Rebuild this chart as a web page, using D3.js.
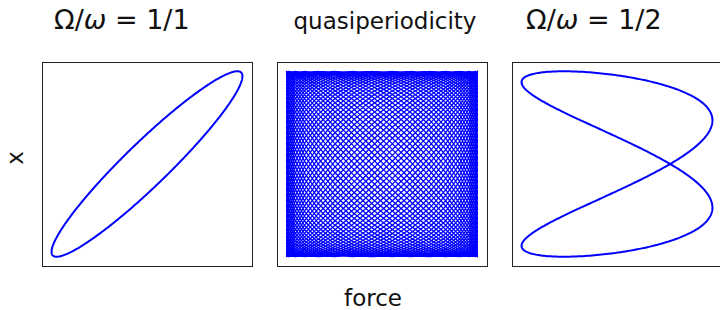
<!DOCTYPE html>
<html>
<head>
<meta charset="utf-8">
<script src="https://cdn.jsdelivr.net/npm/d3@7"></script>
<style>
    body { margin: 0; background: #fff; }
    text { font-family: "DejaVu Sans", sans-serif; fill: #111; }
</style>
</head>
<body>
<svg id="chart" width="720" height="310"></svg>
<script>
// ============================================================================
// DATA (orbit parameters)
// ============================================================================

const panelNames = ['1/1', 'quasi', '1/2'];
const forceFreq = [1, 1, 2];          // force(t) = cos(forceFreq*t + forcePhase)
const forcePhase = [0, 0, 0.98];
const responseFreq = [1, 1.01, 1];    // x(t) = cos(responseFreq*t + responsePhase)
const responsePhase = [-0.33, 0, -Math.PI / 2];
const periods = [1, 125, 1];          // how many 2π periods are traced
const samplesPerPeriod = [500, 30, 500];

// ============================================================================
// LAYOUT
// ============================================================================

const CONFIG = {
    panelLeft: [42, 277, 512],
    panelTop: 62,
    panelWidth: 210,
    panelHeight: 204,
    lineColor: '#0000ff',
    lineWidth: [2, 1.3, 2],
};

const svg = d3.select('#chart');

function tracePanel(i) {
    const n = Math.round(periods[i] * samplesPerPeriod[i]);
    const tMax = periods[i] * 2 * Math.PI;
    return d3.range(n + 1).map(k => {
        const t = tMax * k / n;
        return {
            f: Math.cos(forceFreq[i] * t + forcePhase[i]),
            x: Math.cos(responseFreq[i] * t + responsePhase[i]),
        };
    });
}

panelNames.forEach((name, i) => {
    const pts = tracePanel(i);
    const left = CONFIG.panelLeft[i];
    const fExt = d3.extent(pts, d => d.f);
    const xExt = d3.extent(pts, d => d.x);
    const fPad = (fExt[1] - fExt[0]) * 0.05;
    const xPad = (xExt[1] - xExt[0]) * 0.05;

    const sx = d3.scaleLinear()
        .domain([fExt[0] - fPad, fExt[1] + fPad])
        .range([left, left + CONFIG.panelWidth]);
    const sy = d3.scaleLinear()
        .domain([xExt[0] - xPad, xExt[1] + xPad])
        .range([CONFIG.panelTop + CONFIG.panelHeight, CONFIG.panelTop]);

    const line = d3.line().x(d => sx(d.f)).y(d => sy(d.x));

    svg.append('path')
        .datum(pts)
        .attr('d', line)
        .attr('fill', 'none')
        .attr('stroke', CONFIG.lineColor)
        .attr('stroke-width', CONFIG.lineWidth[i])
        .attr('stroke-linejoin', 'round');

    svg.append('rect')
        .attr('x', left + 0.5)
        .attr('y', CONFIG.panelTop + 0.5)
        .attr('width', CONFIG.panelWidth)
        .attr('height', CONFIG.panelHeight)
        .attr('fill', 'none')
        .attr('stroke', '#222')
        .attr('stroke-width', 1);
});

// ============================================================================
// TITLES & LABELS
// ============================================================================

function mathTitle(x, ratio) {
    const t = svg.append('text')
        .attr('x', x)
        .attr('y', 29)
        .style('font-size', '27px');
    t.append('tspan').text('Ω/');
    t.append('tspan').style('font-style', 'italic').text('ω');
    t.append('tspan').text(' = ' + ratio);
}

mathTitle(54, '1/1');
mathTitle(526, '1/2');

svg.append('text')
    .attr('x', 385)
    .attr('y', 29)
    .attr('text-anchor', 'middle')
    .style('font-size', '23px')
    .text('quasiperiodicity');

svg.append('text')
    .attr('x', 373)
    .attr('y', 306)
    .attr('text-anchor', 'middle')
    .style('font-size', '23px')
    .text('force');

svg.append('text')
    .attr('transform', 'translate(23,158) rotate(-90)')
    .attr('text-anchor', 'middle')
    .style('font-size', '23px')
    .text('x');
</script>
</body>
</html>
